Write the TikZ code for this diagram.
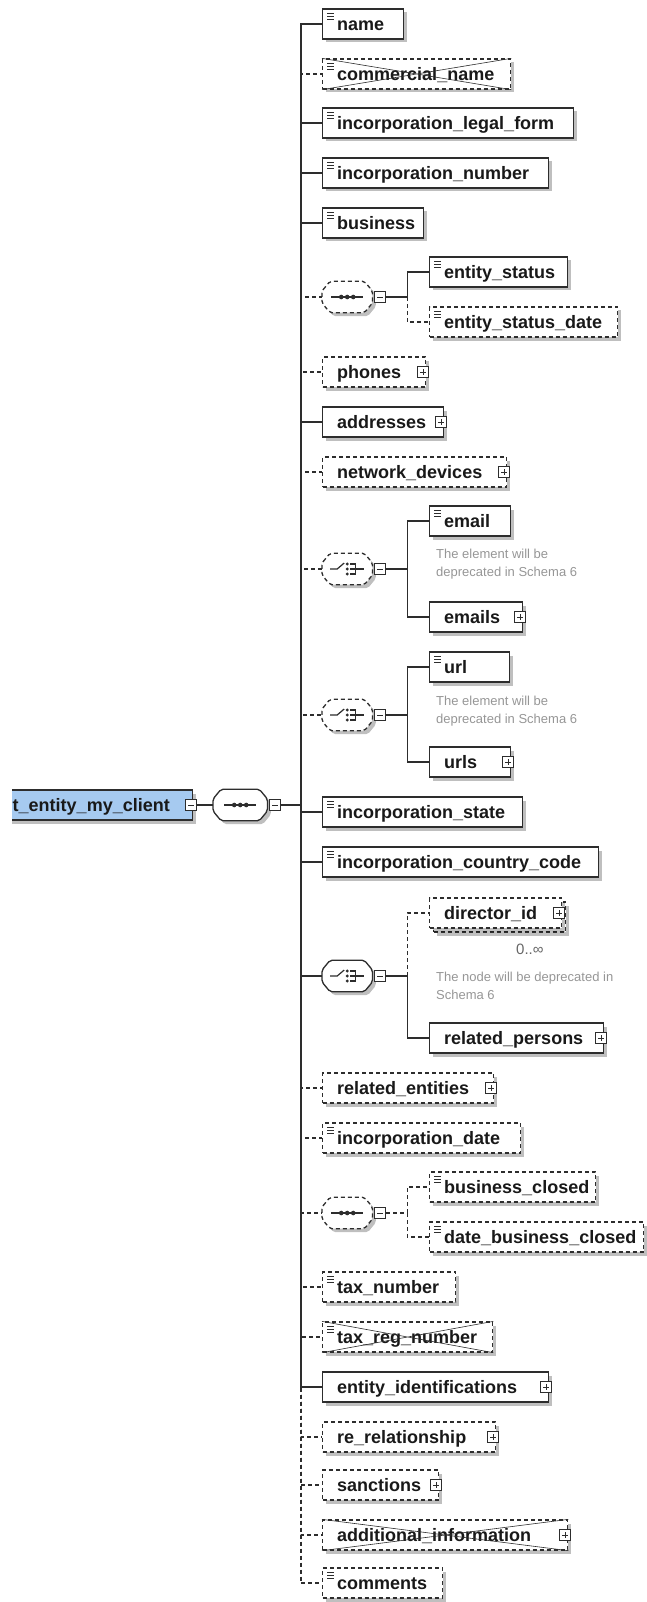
\documentclass[tikz,border=0pt]{standalone}
\usepackage{fontspec}
\setmainfont{Liberation Sans}
\usetikzlibrary{shadows,calc}
\definecolor{rootblue}{RGB}{166,202,240}
\definecolor{ink}{RGB}{45,45,45}
\definecolor{notegray}{RGB}{150,150,150}

\tikzset{
  x=1pt, y=-1pt,
  inkline/.style={draw=ink, line width=1.3pt},
  dashy/.style={dash pattern=on 4pt off 3pt},
  dropsh/.style={drop shadow={shadow xshift=3.5pt, shadow yshift=-3.5pt, fill=black, opacity=0.25}},
  reqbox/.style={inkline, rectangle, fill=white, dropsh, minimum height=30pt, inner sep=0pt, anchor=west},
  optbox/.style={reqbox, dashy},
  lbl/.style={font=\fontsize{18}{20}\selectfont\bfseries, text=black!90, inner sep=0pt, anchor=base west},
  note/.style={font=\fontsize{13}{18}\selectfont, text=notegray, align=left, inner sep=0pt, anchor=west},
  compframe/.style={rectangle, minimum height=31pt, inner sep=0pt, anchor=west},
  reqcomp/.style={inkline, fill=white, dropsh, rounded corners=2pt},
  optcomp/.style={reqcomp, dashy},
  tog/.style={draw=ink, line width=0.9pt, fill=white, rectangle, minimum size=11pt, inner sep=0pt},
  conn/.style={inkline},
  optconn/.style={inkline, dashy},
  thinink/.style={draw=ink, line width=0.8pt},
  iconink/.style={draw=ink, line width=1.2pt},
}

% element box: style, name, x, y, width, label
\newcommand\elbox[6]{%
  \node[#1, minimum width=#5pt] (#2) at (#3,#4) {};
  \node[lbl] (#2-l) at ($(#2.west)+(15,6.5)$) {#6};}
% simple-content marker in the top left corner
\newcommand\simplemark[1]{%
  \draw[thinink] ($(#1.north west)+(5,5)$) -- ++(7,0)
                 ($(#1.north west)+(5,8)$) -- ++(7,0)
                 ($(#1.north west)+(5,11)$) -- ++(7,0);}
% expand button on the right edge
\newcommand\expander[1]{%
  \node[tog] (#1-x) at ($(#1.east)+(-3,0)$) {};
  \draw[thinink] ($(#1-x.center)+(-3,0)$) -- ($(#1-x.center)+(3,0)$)
                 ($(#1-x.center)+(0,-3)$) -- ($(#1-x.center)+(0,3)$);}
% collapse button: name, position
\newcommand\collapser[2]{%
  \node[tog] (#1) at (#2) {};
  \draw[thinink] ($(#1.center)+(-3,0)$) -- ($(#1.center)+(3,0)$);}
% deprecated element: crossed box
\newcommand\crossed[1]{%
  \draw[draw=ink, line width=0.6pt] (#1.north west) -- (#1.south east)
                                    (#1.south west) -- (#1.north east);}
% compositor (octagon): style, name, x, y, width
\newcommand\compositor[5]{%
  \node[compframe, minimum width=#5pt] (#2) at (#3,#4) {};
  \draw[#1] ($(#2.west)+(0,-6)$) -- ($(#2.north west)+(8,0)$) -- ($(#2.north east)+(-8,0)$)
        -- ($(#2.east)+(0,-6)$) -- ($(#2.east)+(0,6)$) -- ($(#2.south east)+(-8,0)$)
        -- ($(#2.south west)+(8,0)$) -- ($(#2.west)+(0,6)$) -- cycle;
  \collapser{#2-m}{$(#2.east)+(8,0)$}}
\newcommand\seqicon[1]{%
  \draw[iconink] ($(#1.center)+(-16,0)$) -- ($(#1.center)+(16,0)$);
  \foreach \d in {-6,0,6} \fill[ink] ($(#1.center)+(\d,0)$) circle (2.3pt);}
\newcommand\choiceicon[1]{%
  \draw[iconink] ($(#1.center)+(-17,0)$) -- ($(#1.center)+(-10,0)$) -- ($(#1.center)+(-3,-6)$);
  \foreach \d in {-5,0,5} \fill[ink] ($(#1.center)+(0,\d)$) circle (1.6pt);
  \draw[iconink] ($(#1.center)+(3,-5)$) -- ($(#1.center)+(8,-5)$) -- ($(#1.center)+(8,5)$) -- ($(#1.center)+(3,5)$)
                 ($(#1.center)+(3,0)$) -- ($(#1.center)+(17,0)$);}

\begin{document}
\begin{tikzpicture}
\useasboundingbox (0,0) rectangle (646,1602);

% root complex type, cut at the left
\begin{scope}
  \clip (12,770) rectangle (210,835);
  \node[inkline, rectangle, fill=rootblue, dropsh, minimum width=230pt, minimum height=30pt, inner sep=0pt, anchor=east] (root) at (193,805) {};
  \node[lbl, anchor=base east] (root-l) at (170,811.5) {t\_entity\_my\_client};
  \collapser{root-m}{191,805}
\end{scope}

% main sequence
\compositor{reqcomp}{mseq}{213}{805}{54}
\seqicon{mseq}

% children of the main sequence
\elbox{reqbox}{name}{322}{24}{81}{name}                 \simplemark{name}
\elbox{optbox}{commname}{322}{74}{188}{commercial\_name} \simplemark{commname} \crossed{commname}
\elbox{reqbox}{inclegal}{322}{123}{251}{incorporation\_legal\_form} \simplemark{inclegal}
\elbox{reqbox}{incnum}{322}{173}{226}{incorporation\_number} \simplemark{incnum}
\elbox{reqbox}{business}{322}{223}{101}{business}       \simplemark{business}

\compositor{optcomp}{seqA}{322}{297}{50}  \seqicon{seqA}
\elbox{reqbox}{estatus}{429}{272}{138}{entity\_status}  \simplemark{estatus}
\elbox{optbox}{estatusdate}{429}{322}{188}{entity\_status\_date} \simplemark{estatusdate}

\elbox{optbox}{phones}{322}{372}{103}{phones}           \expander{phones}
\elbox{reqbox}{addresses}{322}{422}{121}{addresses}     \expander{addresses}
\elbox{optbox}{netdev}{322}{472}{184}{network\_devices} \expander{netdev}

\compositor{optcomp}{choiceA}{322}{569}{50}  \choiceicon{choiceA}
\elbox{reqbox}{email}{429}{521}{81}{email}              \simplemark{email}
\elbox{reqbox}{emails}{429}{617}{93}{emails}            \expander{emails}
\node[note] (noteA) at (436,564) {The element will be\\deprecated in Schema 6};

\compositor{optcomp}{choiceB}{322}{715}{50}  \choiceicon{choiceB}
\elbox{reqbox}{url}{429}{667}{80}{url}                  \simplemark{url}
\elbox{reqbox}{urls}{429}{762}{81}{urls}                \expander{urls}
\node[note] (noteB) at (436,711) {The element will be\\deprecated in Schema 6};

\elbox{reqbox}{incstate}{322}{812}{200}{incorporation\_state} \simplemark{incstate}
\elbox{reqbox}{inccountry}{322}{862}{276}{incorporation\_country\_code} \simplemark{inccountry}

\compositor{reqcomp}{choiceC}{322}{976}{50}  \choiceicon{choiceC}
\node[optbox, minimum width=132pt] (dirstack) at (433,917) {};
\elbox{optbox}{director}{429}{913}{132}{director\_id}   \expander{director}
\node[font=\fontsize{15}{15}\selectfont, text=black!60, inner sep=0pt, anchor=west] (occ) at (516,949) {0..∞};
\node[note] (noteC) at (436,986) {The node will be deprecated in\\Schema 6};
\elbox{reqbox}{relpersons}{429}{1038}{174}{related\_persons} \expander{relpersons}

\elbox{optbox}{relent}{322}{1088}{171}{related\_entities} \expander{relent}
\elbox{optbox}{incdate}{322}{1138}{198}{incorporation\_date} \simplemark{incdate}

\compositor{optcomp}{seqB}{322}{1213}{50}  \seqicon{seqB}
\elbox{optbox}{bclosed}{429}{1187}{166}{business\_closed} \simplemark{bclosed}
\elbox{optbox}{dbclosed}{429}{1237}{214}{date\_business\_closed} \simplemark{dbclosed}

\elbox{optbox}{taxnum}{322}{1287}{133}{tax\_number}     \simplemark{taxnum}
\elbox{optbox}{taxreg}{322}{1337}{170}{tax\_reg\_number} \simplemark{taxreg} \crossed{taxreg}
\elbox{reqbox}{entids}{322}{1387}{226}{entity\_identifications} \expander{entids}
\elbox{optbox}{rerel}{322}{1437}{173}{re\_relationship} \expander{rerel}
\elbox{optbox}{sanctions}{322}{1485}{116}{sanctions}    \expander{sanctions}
\elbox{optbox}{addinfo}{322}{1535}{245}{additional\_information} \expander{addinfo} \crossed{addinfo}
\elbox{optbox}{comments}{322}{1583}{120}{comments}      \simplemark{comments}

% connectors
\draw[conn] (root-m.east) -- (mseq.west);
\foreach \n in {commname,seqA,phones,netdev,choiceA,choiceB,relent,incdate,seqB,taxnum,taxreg,rerel,sanctions,addinfo,comments}
  \draw[optconn] (mseq-m.east) -- ++(19.5,0) |- (\n.west);
\foreach \n in {name,inclegal,incnum,business,addresses,incstate,inccountry,choiceC,entids}
  \draw[conn] (mseq-m.east) -- ++(19.5,0) |- (\n.west);

\draw[optconn] (seqA-m.east) -- ++(21,0) |- (estatusdate.west);
\draw[conn] (seqA-m.east) -- ++(21,0) |- (estatus.west);
\draw[conn] (choiceA-m.east) -- ++(21,0) |- (email.west);
\draw[conn] (choiceA-m.east) -- ++(21,0) |- (emails.west);
\draw[conn] (choiceB-m.east) -- ++(21,0) |- (url.west);
\draw[conn] (choiceB-m.east) -- ++(21,0) |- (urls.west);
\draw[optconn] (choiceC-m.east) -- ++(21,0) |- (director.west);
\draw[conn] (choiceC-m.east) -- ++(21,0) |- (relpersons.west);
\draw[optconn] (seqB-m.east) -- ++(21,0) |- (bclosed.west);
\draw[optconn] (seqB-m.east) -- ++(21,0) |- (dbclosed.west);
\end{tikzpicture}
\end{document}
